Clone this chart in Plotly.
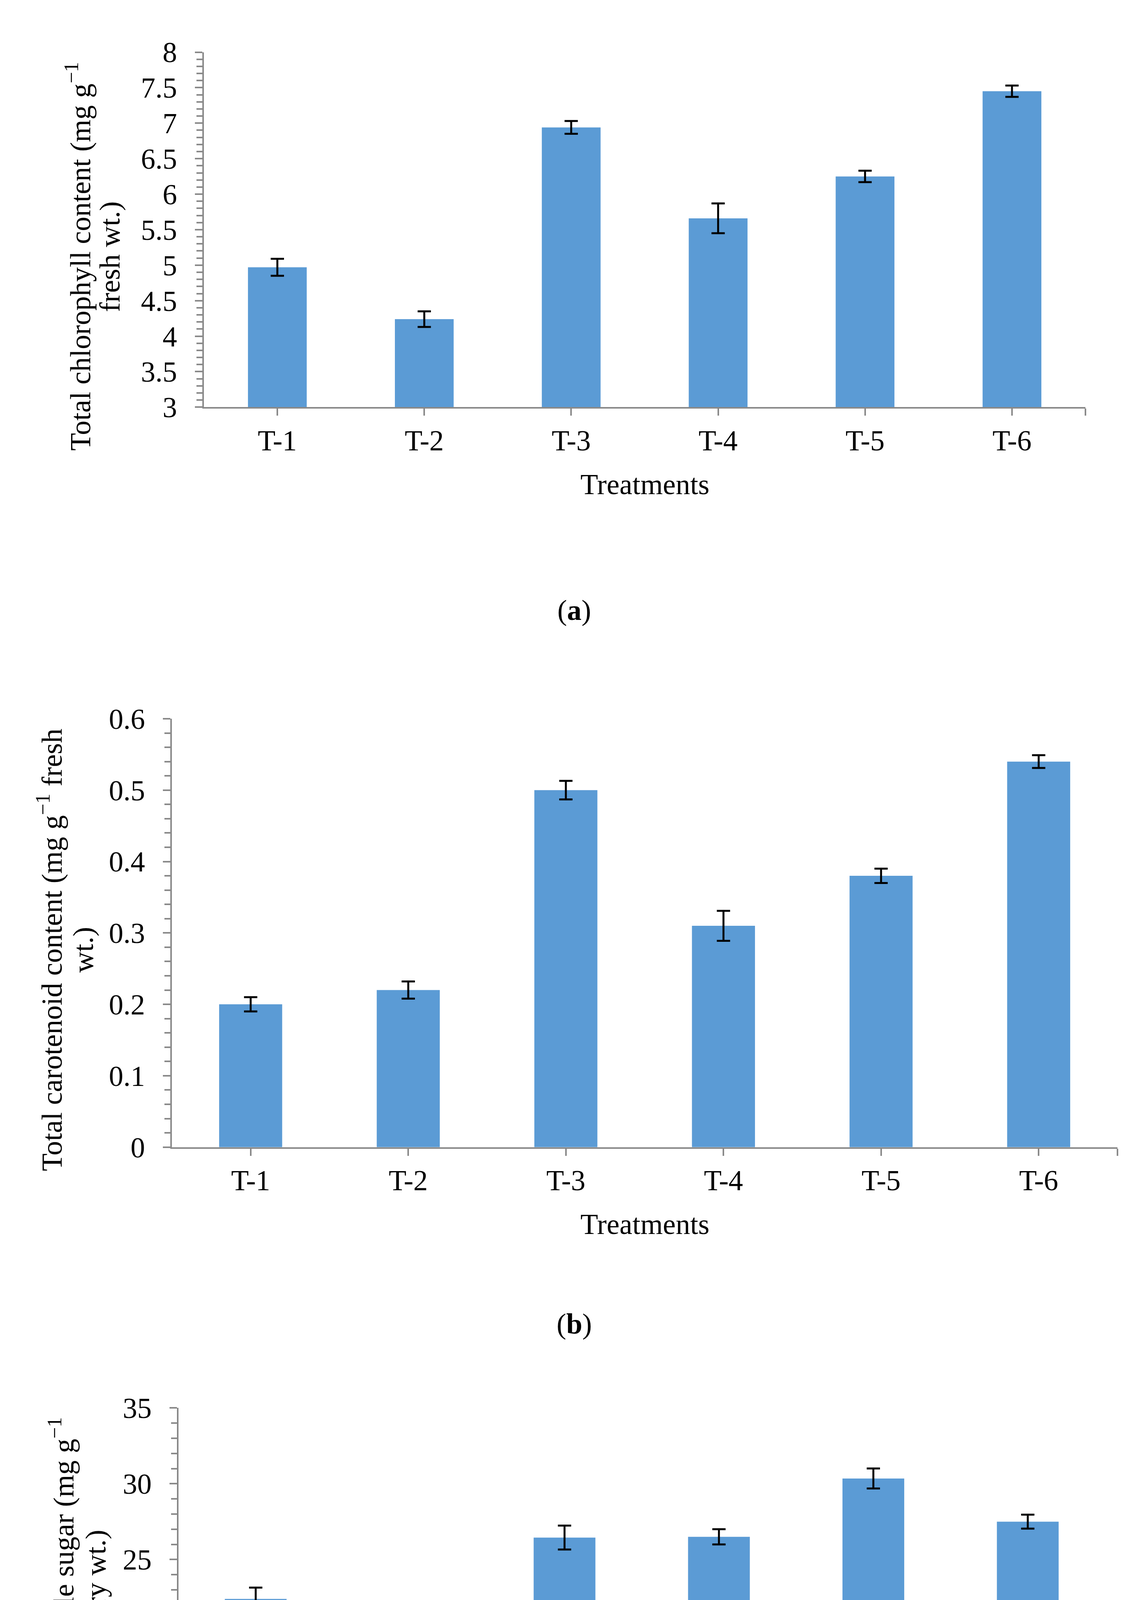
import plotly.graph_objects as go

# canvas size (px) of the reference
W, H = 2911, 4980
PAGE_PAD = 8  # default body margin of the html page

treatments = ["T-1", "T-2", "T-3", "T-4", "T-5", "T-6"]

chlorophyll = [4.97, 4.24, 6.94, 5.66, 6.25, 7.45]
chlorophyll_err = [0.12, 0.11, 0.09, 0.21, 0.08, 0.08]

carotenoid = [0.20, 0.22, 0.50, 0.31, 0.38, 0.54]
carotenoid_err = [0.010, 0.012, 0.013, 0.021, 0.010, 0.009]

sugar = [22.4, 18.6, 26.45, 26.5, 30.35, 27.5]
sugar_err = [0.75, 0.66, 0.79, 0.50, 0.66, 0.46]

y_titles = [
    ["Total chlorophyll content (mg g<sup>−1</sup>", "fresh wt.)"],
    ["Total carotenoid content (mg g<sup>−1</sup> fresh", "wt.)"],
    ["Total soluble sugar (mg g<sup>−1</sup>", "dry wt.)"],
]
x_title = "Treatments"
panel_tags = ["(<b>a</b>)", "(<b>b</b>)", "(<b>c</b>)"]

FONT = "Liberation Serif, Times New Roman, serif"
GREY = "#898989"
BLUE = "#5B9BD5"

# layout of each panel in pixels: plot box, y-title line centres, x-title and tag centres
panels = [
    dict(vals=chlorophyll, err=chlorophyll_err, yr=[3, 8], dt=0.5, mdt=0.1,
         box=(522, 2779, 95, 1019), ytl=(201, 281), yty=627, xty=1220, tag=(1470, 1547)),
    dict(vals=carotenoid, err=carotenoid_err, yr=[0, 0.6], dt=0.1, mdt=0.02,
         box=(440, 2861, 1830, 2945), ytl=(127, 213), yty=2432, xty=3146, tag=(1470, 3405)),
    dict(vals=sugar, err=sugar_err, yr=[15, 35], dt=5, mdt=1,
         box=(457, 2829, 3624, 4413), ytl=(157, 245), yty=4060, xty=4615, tag=(1470, 4908)),
]


def px_x(v):
    return (v - PAGE_PAD) / W


def px_y(v):
    return 1 - (v - PAGE_PAD) / H


fig = go.Figure()
annotations = []

for i, p in enumerate(panels):
    n = "" if i == 0 else str(i + 1)
    x0, x1, y0, y1 = p["box"]

    fig.add_trace(go.Bar(
        x=treatments, y=p["vals"],
        marker=dict(color=BLUE, line=dict(width=0)),
        error_y=dict(type="data", array=p["err"], color="black", thickness=5, width=17),
        xaxis="x" + n, yaxis="y" + n, showlegend=False,
    ))

    # ticks under every category plus one closing tick at the right end of the axis
    tickvals = list(range(len(treatments))) + [len(treatments) - 0.5]
    fig.layout["xaxis" + n] = dict(
        domain=[px_x(x0), px_x(x1)], anchor="y" + n, type="category",
        range=[-0.5, len(treatments) - 0.5],
        tickmode="array", tickvals=tickvals, ticktext=treatments + [""],
        showline=True, linecolor=GREY, linewidth=4,
        ticks="outside", ticklen=18, tickwidth=4, tickcolor=GREY,
        ticklabelstandoff=0, showgrid=False, zeroline=False,
        tickfont=dict(family=FONT, size=74, color="black"),
    )
    fig.layout["yaxis" + n] = dict(
        domain=[px_y(y1), px_y(y0)], anchor="x" + n,
        range=p["yr"], dtick=p["dt"], tick0=p["yr"][0],
        showline=True, linecolor=GREY, linewidth=4,
        ticks="outside", ticklen=19, tickwidth=4, tickcolor=GREY,
        minor=dict(dtick=p["mdt"], tick0=p["yr"][0], ticks="outside",
                   ticklen=15, tickwidth=4, tickcolor=GREY),
        ticklabelstandoff=31, showgrid=False, zeroline=False,
        tickfont=dict(family=FONT, size=74, color="black"),
    )

    for line, xc in zip(y_titles[i], p["ytl"]):
        annotations.append(dict(
            text=line, x=px_x(xc), y=px_y(p["yty"]), xref="paper", yref="paper",
            xanchor="center", yanchor="middle", textangle=-90, showarrow=False,
            font=dict(family=FONT, size=74, color="black"),
        ))
    annotations.append(dict(
        text=x_title, x=px_x((x0 + x1) / 2), y=px_y(p["xty"]), xref="paper", yref="paper",
        xanchor="center", yanchor="middle", showarrow=False,
        font=dict(family=FONT, size=74, color="black"),
    ))
    annotations.append(dict(
        text=panel_tags[i], x=px_x(p["tag"][0]), y=px_y(p["tag"][1]), xref="paper", yref="paper",
        xanchor="center", yanchor="middle", showarrow=False,
        font=dict(family=FONT, size=74, color="black"),
    ))

fig.update_layout(
    width=W, height=H,
    margin=dict(l=0, r=0, t=0, b=0),
    paper_bgcolor="white", plot_bgcolor="white",
    bargap=0.6,
    annotations=annotations,
    font=dict(family=FONT, color="black"),
)

fig.write_html("out.html")
